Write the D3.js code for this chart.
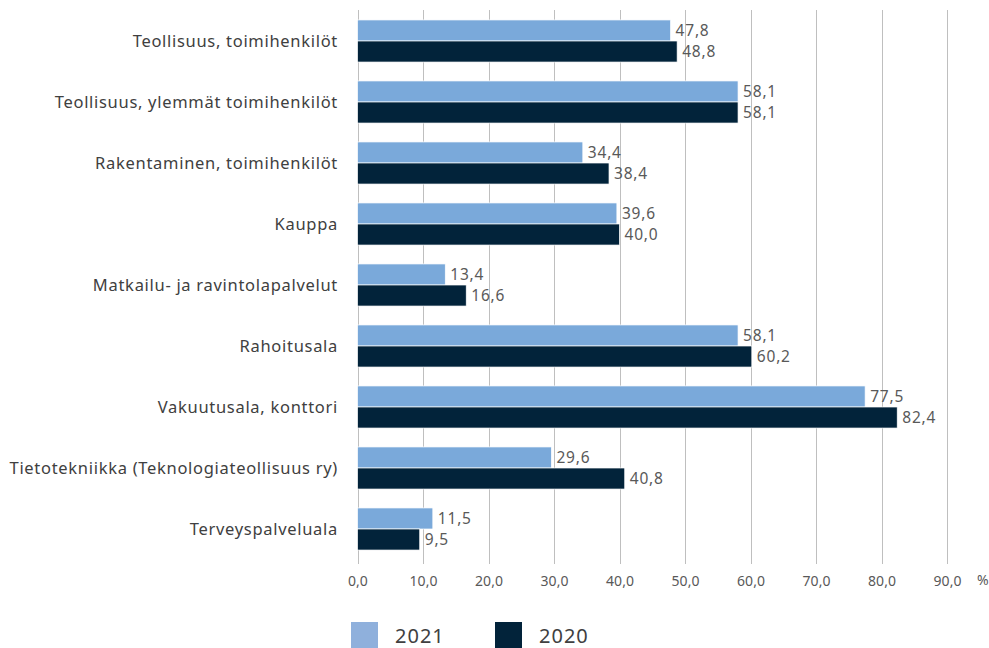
<!DOCTYPE html>
<html>
<head>
<meta charset="utf-8">
<script src="https://cdn.jsdelivr.net/npm/d3@7"></script>
<style>
  body { margin: 0; background: #fff; }
  text { font-family: "Noto Sans", "Open Sans", sans-serif; }
</style>
</head>
<body>
<div class="chart"></div>
<script>
// Luokat ja arvot (%)
var categories = [
    "Teollisuus, toimihenkilöt",
    "Teollisuus, ylemmät toimihenkilöt",
    "Rakentaminen, toimihenkilöt",
    "Kauppa",
    "Matkailu- ja ravintolapalvelut",
    "Rahoitusala",
    "Vakuutusala, konttori",
    "Tietotekniikka (Teknologiateollisuus ry)",
    "Terveyspalveluala"
];
var values2021 = [47.8, 58.1, 34.4, 39.6, 13.4, 58.1, 77.5, 29.6, 11.5];
var values2020 = [48.8, 58.1, 38.4, 40.0, 16.6, 60.2, 82.4, 40.8, 9.5];
var seriesNames = ["2021", "2020"];
var tickValues = [0, 10, 20, 30, 40, 50, 60, 70, 80, 90];

var colors = ["#7aa9da", "#02233a"];
var legendColors = ["#8fb0dc", "#02233a"];

var width = 989, height = 648;
var plotLeft = 357.5, plotRight = 947, plotTop = 10.5, plotBottom = 559.5;

var svg = d3.select(".chart").append("svg")
    .attr("width", width)
    .attr("height", height);

var x = d3.scaleLinear().domain([0, 90]).range([plotLeft, plotRight]);
var y = d3.scaleBand().domain(categories).range([plotTop, plotBottom]).paddingInner(0.31).paddingOuter(0.155);
var ySub = d3.scaleBand().domain(seriesNames).range([0, y.bandwidth()]);

var fmt = function(v) { return d3.format(".1f")(v).replace(".", ","); };

// ruudukko
svg.append("g").selectAll("line")
    .data(tickValues)
    .enter().append("line")
    .attr("x1", function(d) { return Math.round(x(d)) + 0.5; })
    .attr("x2", function(d) { return Math.round(x(d)) + 0.5; })
    .attr("y1", 10)
    .attr("y2", 564)
    .attr("stroke", "#bfbfbf")
    .attr("stroke-width", 1);

var rows = categories.map(function(c, i) {
    return { cat: c, vals: [values2021[i], values2020[i]] };
});

var groups = svg.append("g").selectAll("g")
    .data(rows)
    .enter().append("g")
    .attr("transform", function(d) { return "translate(0," + y(d.cat) + ")"; });

groups.selectAll("rect")
    .data(function(d) { return d.vals.map(function(v, j) { return { v: v, s: seriesNames[j], j: j }; }); })
    .enter().append("rect")
    .attr("x", x(0))
    .attr("y", function(d) { return ySub(d.s); })
    .attr("width", function(d) { return x(d.v) - x(0); })
    .attr("height", ySub.bandwidth())
    .attr("fill", function(d) { return colors[d.j]; })
    .attr("stroke", "#ffffff")
    .attr("stroke-width", 0.7);

groups.selectAll("text.val")
    .data(function(d) { return d.vals.map(function(v, j) { return { v: v, s: seriesNames[j] }; }); })
    .enter().append("text")
    .attr("class", "val")
    .attr("x", function(d) { return x(d.v) + 5; })
    .attr("y", function(d) { return ySub(d.s) + ySub.bandwidth() / 2; })
    .attr("dy", "0.35em")
    .attr("font-size", 15.5)
    .attr("letter-spacing", 0.8)
    .attr("fill", "#595959")
    .text(function(d) { return fmt(d.v); });

// luokkien nimet
svg.append("g").selectAll("text")
    .data(categories)
    .enter().append("text")
    .attr("x", 338)
    .attr("y", function(d) { return y(d) + y.bandwidth() / 2; })
    .attr("dy", "0.35em")
    .attr("text-anchor", "end")
    .attr("font-size", 16.5)
    .attr("letter-spacing", 0.7)
    .attr("fill", "#404040")
    .text(function(d) { return d; });

// x-akseli
var xAxis = d3.axisBottom(x)
    .tickValues(tickValues)
    .tickSize(0)
    .tickPadding(0)
    .tickFormat(fmt);

var gx = svg.append("g")
    .attr("transform", "translate(0,581)")
    .call(xAxis);
gx.select(".domain").remove();
gx.selectAll("text")
    .attr("dy", "0.35em")
    .attr("font-size", 14)
    .attr("font-family", "Noto Sans, Open Sans, sans-serif")
    .attr("fill", "#595959");

svg.append("text")
    .attr("x", 977)
    .attr("y", 580)
    .attr("dy", "0.35em")
    .attr("font-size", 14)
    .attr("fill", "#595959")
    .text("%");

// selite
var legend = svg.append("g").selectAll("g")
    .data(seriesNames)
    .enter().append("g")
    .attr("transform", function(d, i) { return "translate(" + (351 + i * 144) + ",622)"; });

legend.append("rect")
    .attr("width", 27)
    .attr("height", 27)
    .attr("fill", function(d, i) { return legendColors[i]; });

legend.append("text")
    .attr("x", 44)
    .attr("y", 14)
    .attr("dy", "0.35em")
    .attr("font-size", 20)
    .attr("letter-spacing", 1)
    .attr("fill", "#404040")
    .text(function(d) { return d; });
</script>
</body>
</html>
